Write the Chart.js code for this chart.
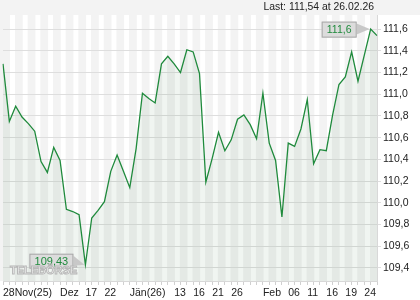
<!DOCTYPE html>
<html>
<head>
<meta charset="utf-8">
<script src="https://cdn.jsdelivr.net/npm/chart.js@4.4.1/dist/chart.umd.min.js"></script>
<style>
  html, body { margin: 0; padding: 0; background: #fff; }
  #chart { display: block; }
</style>
</head>
<body>
<canvas id="chart" width="420" height="300"></canvas>
<script>
// Kurse pro Handelstag, 28.11.25 bis 26.02.26
var kurse = [
    111.28, 110.75, 110.89, 110.79, 110.73, 110.66, 110.38, 110.28, 110.51, 110.39,
    109.94, 109.92, 109.89, 109.43, 109.86, 109.93, 110.01, 110.29, 110.44, 110.29,
    110.14, 110.50, 111.01, 110.96, 110.92, 111.28, 111.35, 111.28, 111.20, 111.41,
    111.39, 111.19, 110.19, 110.41, 110.65, 110.48, 110.58, 110.77, 110.81, 110.72,
    110.59, 111.01, 110.55, 110.39, 109.87, 110.55, 110.52, 110.68, 110.95, 110.36,
    110.49, 110.48, 110.81, 111.09, 111.16, 111.39, 111.12, 111.36, 111.60, 111.54
];

var tickIndex = [0, 9, 13, 16, 20, 27, 30, 33, 36, 41, 45, 48, 51, 54, 57];
var tickText = ['28Nov(25)', 'Dez', '17', '22', 'Jän(26)', '13', '16', '21', '26', 'Feb', '06', '11', '16', '19', '24'];

var yTicks = [109.4, 109.6, 109.8, 110.0, 110.2, 110.4, 110.6, 110.8, 111.0, 111.2, 111.4, 111.6];

var lastText = 'Last: 111,54 at 26.02.26';
var maxText = '111,6';
var minText = '109,43';
var logoText = 'TELEBÖRSE';

var labels = [];
for (var i = 0; i < kurse.length; i++) {
    var k = tickIndex.indexOf(i);
    labels.push(k >= 0 ? tickText[k] : '');
}

var FONT = '"Liberation Sans", Arial, sans-serif';
var GREEN = '#1f8a3c';

var hintergrund = {
    id: 'hintergrund',
    beforeDraw: function(chart) {
        var ctx = chart.ctx;
        var area = chart.chartArea;
        var xs = chart.scales.x;
        ctx.save();
        ctx.fillStyle = '#ffffff';
        ctx.fillRect(0, 0, chart.width, chart.height);
        ctx.fillStyle = '#f3f3f3';
        ctx.fillRect(0, 0, chart.width, area.top);
        for (var i = 0; i < kurse.length - 1; i += 2) {
            var x0 = i === 0 ? 0 : xs.getPixelForValue(i) - 0.7;
            var x1 = xs.getPixelForValue(i + 1) + 0.7;
            ctx.fillRect(x0, area.top, x1 - x0, area.bottom - area.top);
        }
        ctx.fillStyle = '#222';
        ctx.font = '10.4px ' + FONT;
        ctx.textAlign = 'right';
        ctx.textBaseline = 'middle';
        ctx.fillText(lastText, 374, 7.5);
        ctx.restore();
    }
};

function zeichneBox(ctx, text, bx, by, bw, bh, px, py, size) {
    ctx.fillStyle = '#c8c8c8';
    ctx.beginPath();
    ctx.moveTo(bx + bw, by + 2);
    ctx.lineTo(px - 1, py);
    ctx.lineTo(bx + bw, by + bh - 3);
    ctx.closePath();
    ctx.fill();
    ctx.fillStyle = '#dcdcdc';
    ctx.fillRect(bx, by, bw, bh);
    ctx.strokeStyle = '#a8a8a8';
    ctx.lineWidth = 1;
    ctx.strokeRect(bx + 0.5, by + 0.5, bw - 1, bh - 1);
    ctx.fillStyle = GREEN;
    ctx.font = size + 'px ' + FONT;
    ctx.textAlign = 'center';
    ctx.textBaseline = 'middle';
    ctx.fillText(text, bx + bw / 2, by + bh / 2 + 0.5);
}

var markierungen = {
    id: 'markierungen',
    afterDatasetsDraw: function(chart) {
        var ctx = chart.ctx;
        var xs = chart.scales.x;
        var ys = chart.scales.y;
        var iMax = 0, iMin = 0;
        for (var i = 0; i < kurse.length; i++) {
            if (kurse[i] > kurse[iMax]) iMax = i;
            if (kurse[i] < kurse[iMin]) iMin = i;
        }
        ctx.save();
        var px = xs.getPixelForValue(iMax), py = ys.getPixelForValue(kurse[iMax]);
        zeichneBox(ctx, maxText, px - 49, py - 7.5, 35, 16, px, py, 10.5);
        px = xs.getPixelForValue(iMin);
        py = ys.getPixelForValue(kurse[iMin]);
        zeichneBox(ctx, minText, px - 56, py - 11, 44, 15, px, py, 11);

        ctx.font = 'bold 11px ' + FONT;
        ctx.textAlign = 'left';
        ctx.textBaseline = 'middle';
        ctx.lineWidth = 1;
        ctx.strokeStyle = '#b8b8b8';
        ctx.fillStyle = 'rgba(255,255,255,0.85)';
        ctx.fillText(logoText, 10, 271);
        ctx.strokeText(logoText, 10, 271);
        ctx.restore();
    }
};

var chart = new Chart(document.getElementById('chart'), {
    type: 'line',
    data: {
        labels: labels,
        datasets: [{
            data: kurse,
            borderColor: GREEN,
            borderWidth: 1.3,
            pointRadius: 0,
            tension: 0,
            fill: 'start',
            backgroundColor: 'rgba(40,120,50,0.07)'
        }]
    },
    options: {
        responsive: false,
        animation: false,
        devicePixelRatio: 1,
        layout: { padding: { left: 3, top: 15, right: 0, bottom: 0 } },
        plugins: {
            legend: { display: false },
            tooltip: { enabled: false }
        },
        scales: {
            x: {
                type: 'category',
                offset: false,
                grid: { drawOnChartArea: false, drawTicks: true, tickLength: 4, color: '#d0d0d0' },
                border: { color: '#d8d8d8' },
                ticks: {
                    autoSkip: false,
                    maxRotation: 0,
                    minRotation: 0,
                    align: 'start',
                    padding: 2,
                    color: '#222',
                    font: { family: FONT, size: 10.5 }
                },
                afterFit: function(scale) { scale.height = 19; }
            },
            y: {
                position: 'right',
                min: 109.28,
                max: 111.73,
                afterBuildTicks: function(axis) {
                    axis.ticks = yTicks.map(function(v) { return { value: v }; });
                },
                grid: { color: '#dedede', tickLength: 4 },
                border: { color: '#d8d8d8' },
                ticks: {
                    padding: 2,
                    color: '#222',
                    font: { family: FONT, size: 10.5 },
                    callback: function(v) { return v.toFixed(1).replace('.', ','); }
                },
                afterFit: function(scale) { scale.width = 43; }
            }
        }
    },
    plugins: [hintergrund, markierungen]
});
</script>
</body>
</html>
